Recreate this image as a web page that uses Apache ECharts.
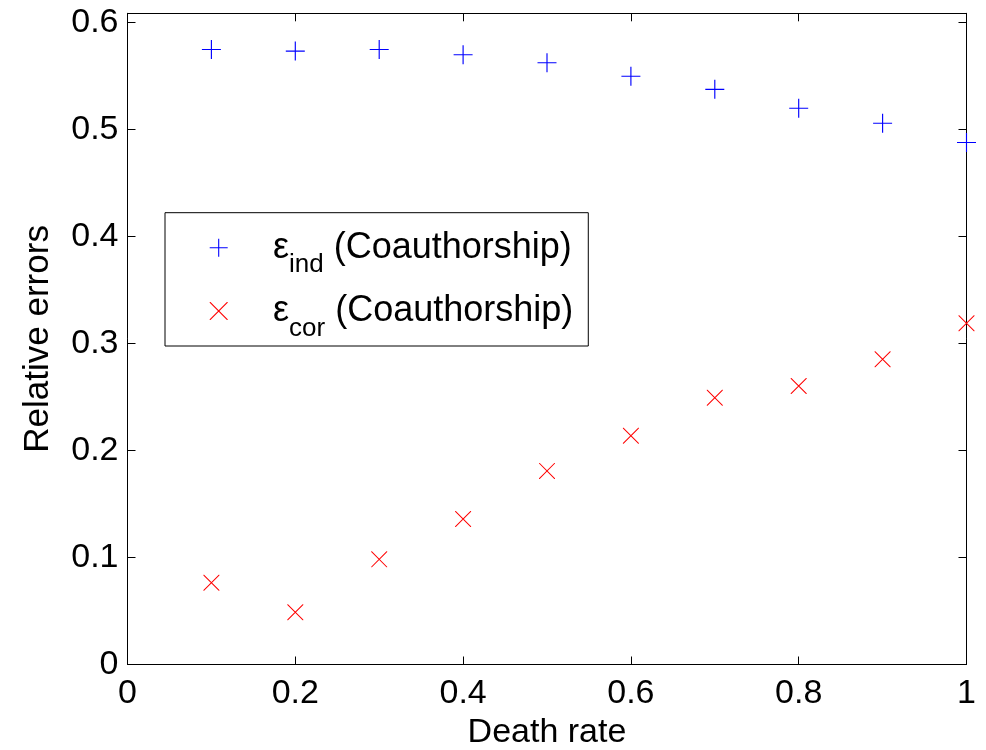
<!DOCTYPE html>
<html>
<head>
<meta charset="utf-8">
<script src="https://cdn.jsdelivr.net/npm/echarts@6/dist/echarts.min.js"></script>
<style>
html,body{margin:0;padding:0;background:#fff;}
#c{width:986px;height:750px;}
</style>
</head>
<body>
<div id="c"></div>
<script>
// ---- data ----
const deathRate = [0.1, 0.2, 0.3, 0.4, 0.5, 0.6, 0.7, 0.8, 0.9, 1.0];
const epsInd = [0.575, 0.5735, 0.575, 0.570, 0.5626, 0.550, 0.5377, 0.520, 0.506, 0.488];
const epsCor = [0.0765, 0.0488, 0.0983, 0.136, 0.181, 0.2139, 0.2494, 0.2604, 0.2853, 0.319];
const seriesNames = ['ind', 'cor'];
const xLabel = 'Death rate';
const yLabel = 'Relative errors';

const FONT = 'Liberation Sans, Arial, Helvetica, sans-serif';
const PLUS = 'path://M0,9.4H20V10.6H0Z M9.4,0H10.6V20H9.4Z';
const CROSS = 'path://M0,0L0.9,0L20,19.1L20,20L19.1,20L0,0.9Z M20,0L20,0.9L0.9,20L0,20L0,19.1L19.1,0Z';

const chart = echarts.init(document.getElementById('c'), null, {renderer: 'canvas'});

const yFmt = v => (Math.abs(v * 10 - Math.round(v * 10)) < 1e-6) ? String(+v.toFixed(1)) : '';

const baseX = {
  type: 'value', min: 0, max: 1, interval: 0.2,
  axisLine: {show: true, onZero: false, lineStyle: {color: '#000', width: 1}},
  axisTick: {show: true, inside: true, length: 8, lineStyle: {color: '#000', width: 1}},
  splitLine: {show: false},
  minorTick: {show: false}
};
const baseY = {
  type: 'value', min: 0, max: 0.6088, interval: 0.1,
  axisLine: {show: true, onZero: false, lineStyle: {color: '#000', width: 1}},
  axisTick: {show: true, inside: true, length: 8, lineStyle: {color: '#000', width: 1}},
  splitLine: {show: false},
  minorTick: {show: false}
};

chart.setOption({
  backgroundColor: '#fff',
  animation: false,
  grid: {left: 127.5, right: 19.5, top: 13.3, bottom: 85.5, containLabel: false, outerBoundsMode: 'none'},
  xAxis: [
    Object.assign({}, baseX, {
      position: 'bottom',
      name: xLabel, nameLocation: 'middle', nameGap: 46,
      nameTextStyle: {fontFamily: FONT, fontSize: 34, color: '#000'},
      axisLabel: {show: true, margin: 12, fontFamily: FONT, fontSize: 34, color: '#000',
                  formatter: v => String(+v.toFixed(1))}
    }),
    Object.assign({}, baseX, {position: 'top', axisLabel: {show: false}})
  ],
  yAxis: [
    Object.assign({}, baseY, {
      position: 'left',
      name: yLabel, nameLocation: 'middle', nameGap: 72,
      nameTextStyle: {fontFamily: FONT, fontSize: 35, color: '#000'},
      axisLabel: {show: true, margin: 9, fontFamily: FONT, fontSize: 34, color: '#000', formatter: yFmt}
    }),
    Object.assign({}, baseY, {position: 'right', axisLabel: {show: false}})
  ],
  legend: {
    orient: 'vertical',
    left: 165, top: 212.7,
    padding: [4.5, 15, 4.5, 44.7],
    itemGap: 2.3,
    itemWidth: 98.6,
    itemHeight: 18,
    backgroundColor: '#fff',
    borderColor: '#000',
    borderWidth: 1,
    selectedMode: false,
    data: [
      {name: seriesNames[0], icon: PLUS},
      {name: seriesNames[1], icon: CROSS}
    ],
    formatter: n => '{m|ε}{sub|' + n + '}{m| (Coauthorship)}',
    textStyle: {
      fontFamily: FONT, fontSize: 36, color: '#000', lineHeight: 61,
      rich: {
        m: {fontFamily: FONT, fontSize: 36, color: '#000', lineHeight: 61},
        sub: {fontFamily: FONT, fontSize: 26, color: '#000', lineHeight: 8, verticalAlign: 'bottom'}
      }
    }
  },
  series: [
    {
      name: seriesNames[0], type: 'scatter', xAxisIndex: 0, yAxisIndex: 0,
      symbol: PLUS, symbolSize: 19, clip: false,
      itemStyle: {color: '#0000ff', opacity: 1},
      data: deathRate.map((x, i) => [x, epsInd[i]])
    },
    {
      name: seriesNames[1], type: 'scatter', xAxisIndex: 0, yAxisIndex: 0,
      symbol: CROSS, symbolSize: 16, clip: false,
      itemStyle: {color: '#ff0000', opacity: 1},
      data: deathRate.map((x, i) => [x, epsCor[i]])
    }
  ]
});
</script>
</body>
</html>
